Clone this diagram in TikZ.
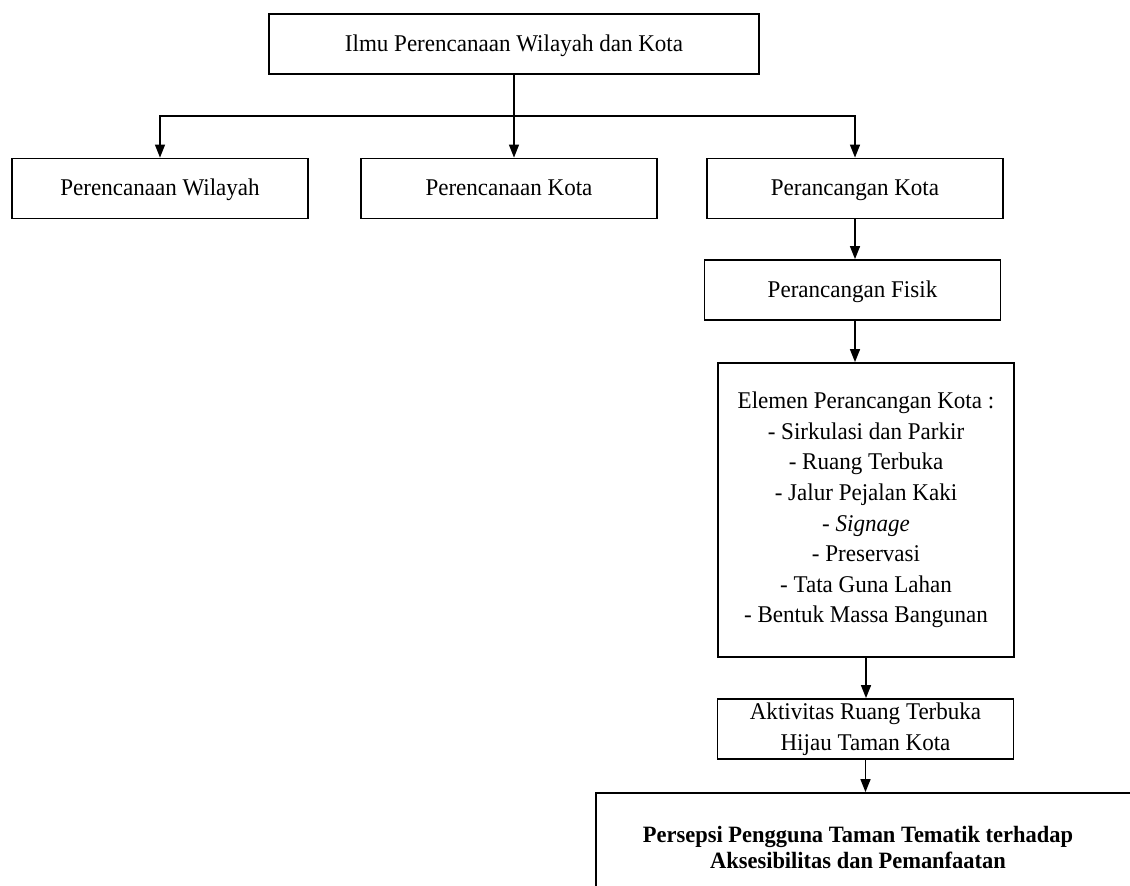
\documentclass[tikz,border=0pt]{standalone}
\usepackage{fontspec}
\setmainfont[FakeStretch=0.96]{Liberation Serif}
\usetikzlibrary{arrows.meta}

\begin{document}
\begin{tikzpicture}[x=0.5pt,y=-0.5pt,font=\fontsize{12}{15.3}\selectfont,
  >={Triangle[width=5pt,length=6.5pt]},
  box/.style={draw,line width=0.9pt,minimum width=148pt,minimum height=30pt,inner sep=0pt,align=center},
  onebox/.style={box,text height=8.5pt,text depth=1pt},
  arr/.style={->,line width=0.75pt}]
\useasboundingbox (0,0) rectangle (1130,886);
\node[onebox,minimum width=245pt] (ilmu) at (514,44) {Ilmu Perencanaan Wilayah dan Kota};
\node[onebox] (wilayah) at (160,188.5) {Perencanaan Wilayah};
\node[onebox] (kota) at (509,188.5) {Perencanaan Kota};
\node[onebox] (rancang) at (855,188.5) {Perancangan Kota};
\node[onebox] (fisik) at (852.5,290) {Perancangan Fisik};
\node[box,minimum height=147pt] (elemen) at (866,510) {Elemen Perancangan Kota :\\- Sirkulasi dan Parkir\\- Ruang Terbuka\\- Jalur Pejalan Kaki\\- \textit{Signage}\\- Preservasi\\- Tata Guna Lahan\\- Bentuk Massa Bangunan};
\node[box] (aktivitas) at (865.5,729) {Aktivitas Ruang Terbuka\\Hijau Taman Kota};
% box runs past the page edge, text sits left of its centre
\node[box,minimum width=282pt,minimum height=54pt] (persepsi) at (878,847) {};
\node[font=\fontsize{11.7}{13}\selectfont\bfseries,align=center] (persepsitxt) at (858,847) {Persepsi Pengguna Taman Tematik terhadap\\Aksesibilitas dan Pemanfaatan};
\coordinate (split) at (514,116);
\draw[arr] (ilmu.south) -- (ilmu.south |- kota.north);
\draw[arr] (split) -| (wilayah.north);
\draw[arr] (split) -| (rancang.north);
\draw[arr] (rancang.south) -- (rancang.south |- fisik.north);
\draw[arr] (rancang.south |- fisik.south) -- (rancang.south |- elemen.north);
\draw[arr] (elemen.south) -- (elemen.south |- aktivitas.north);
\draw[arr] (aktivitas.south) -- (aktivitas.south |- persepsi.north);
\end{tikzpicture}
\end{document}
